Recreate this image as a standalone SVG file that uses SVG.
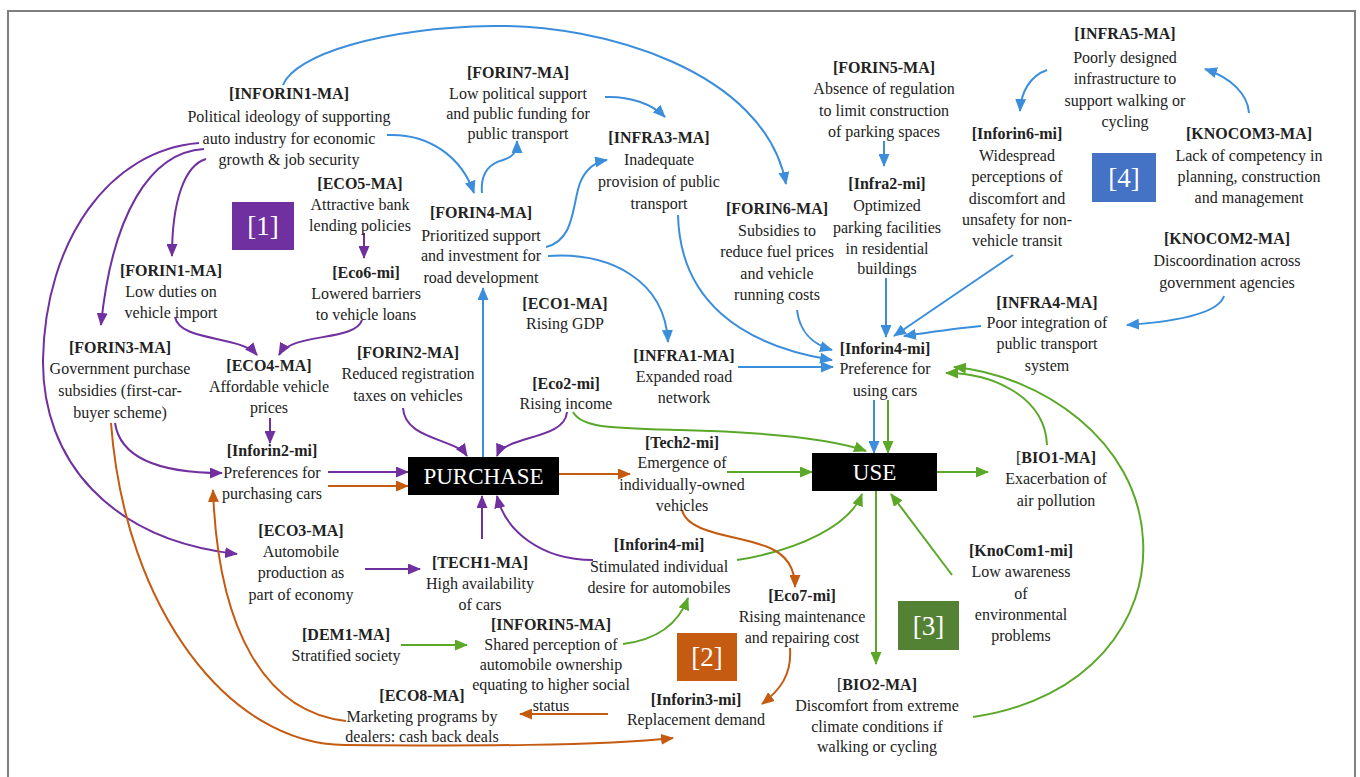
<svg xmlns="http://www.w3.org/2000/svg" width="1360" height="777" viewBox="0 0 1360 777">
<style>
.t{font-size:16px;fill:#222;text-anchor:middle}
.h{font-weight:bold}
.c{fill:none;stroke-width:2}
.b{stroke:#3B8EDB}.g{stroke:#5BA829}.p{stroke:#7030A0}.o{stroke:#C55A11}
.bx{font-size:27px;fill:#fff;text-anchor:middle}
.big{font-size:23px;fill:#fff;text-anchor:middle}
</style>
<defs>
<marker id="ab" markerUnits="userSpaceOnUse" markerWidth="13" markerHeight="11" viewBox="0 0 13 11" refX="12" refY="5.5" orient="auto"><path d="M0,0 L13,5.5 L0,11 z" fill="#3B8EDB"/></marker>
<marker id="ag" markerUnits="userSpaceOnUse" markerWidth="13" markerHeight="11" viewBox="0 0 13 11" refX="12" refY="5.5" orient="auto"><path d="M0,0 L13,5.5 L0,11 z" fill="#5BA829"/></marker>
<marker id="ap" markerUnits="userSpaceOnUse" markerWidth="13" markerHeight="11" viewBox="0 0 13 11" refX="12" refY="5.5" orient="auto"><path d="M0,0 L13,5.5 L0,11 z" fill="#7030A0"/></marker>
<marker id="ao" markerUnits="userSpaceOnUse" markerWidth="13" markerHeight="11" viewBox="0 0 13 11" refX="12" refY="5.5" orient="auto"><path d="M0,0 L13,5.5 L0,11 z" fill="#C55A11"/></marker>
</defs>
<rect x="0" y="0" width="1360" height="777" fill="#fff"/>
<rect x="8" y="11" width="1347" height="790" fill="none" stroke="#7f7f7f" stroke-width="2"/>

<g id="connectors">
<g class="c b" marker-end="url(#ab)">
<path d="M283,85 C295,55 380,28 493,26 C600,24 765,70 786,184"/>
<path d="M387,135 C430,133 462,158 474,193"/>
<path d="M482,193 C480,170 492,163 503,160 C513,157 517,152 517,141"/>
<path d="M605,97 C630,96 652,104 665,117"/>
<path d="M546,247 C575,240 572,205 580,183 C586,168 595,162 607,160"/>
<path d="M548,256 C610,252 665,280 668,342"/>
<path d="M483,457 L483,288"/>
<path d="M678,215 C680,300 740,345 832,360"/>
<path d="M797,310 C800,335 815,345 832,350"/>
<path d="M738,367 L833,367"/>
<path d="M884,141 L884,166"/>
<path d="M886,278 L886,337"/>
<path d="M1013,255 L894,336"/>
<path d="M981,326 C950,329 925,333 904,336"/>
<path d="M1224,296 C1218,315 1170,322 1127,325"/>
<path d="M1047,70 C1030,76 1021,92 1020,111"/>
<path d="M1249,113 C1248,95 1232,78 1205,69"/>
<path d="M874,400 L874,453"/>
</g>
<g class="c g" marker-end="url(#ag)">
<path d="M888,400 L888,453"/>
<path d="M573,412 C582,428 610,428 680,430 C760,432 830,438 866,451"/>
<path d="M727,472 L812,472"/>
<path d="M937,472 L988,472"/>
<path d="M1047,445 C1045,395 990,373 946,373"/>
<path d="M973,717 C1090,700 1148,620 1143,540 C1138,440 1040,375 954,367"/>
<path d="M876,491 L876,664"/>
<path d="M952,575 L891,494"/>
<path d="M737,560 C800,550 850,525 862,494"/>
<path d="M401,645 L467,645"/>
<path d="M623,644 C655,640 678,625 688,598"/>
</g>
<g class="c p" marker-end="url(#ap)">
<path d="M199,143 C110,150 45,240 43,360 C42,460 110,540 237,554"/>
<path d="M204,149 C150,152 112,215 101,325"/>
<path d="M206,159 C185,165 172,200 172,256"/>
<path d="M364,233 L364,258"/>
<path d="M175,317 C180,342 240,335 257,355"/>
<path d="M362,320 C355,342 292,332 279,355"/>
<path d="M270,418 L270,443"/>
<path d="M115,423 C122,470 190,473 222,473"/>
<path d="M328,472 L408,472"/>
<path d="M403,408 C405,440 455,438 467,456"/>
<path d="M567,412 C565,440 505,435 497,456"/>
<path d="M482,539 L482,496"/>
<path d="M593,560 C540,560 505,530 497,496"/>
<path d="M365,569 L420,569"/>
</g>
<g class="c o" marker-end="url(#ao)">
<path d="M328,486 L408,486"/>
<path d="M559,474 L630,474"/>
<path d="M682,510 C688,535 740,535 770,548 C788,556 795,570 795,587"/>
<path d="M790,648 C792,675 780,690 762,704"/>
<path d="M608,714 L520,714"/>
<path d="M346,721 C265,712 218,630 213,490"/>
<path d="M111,423 C125,610 230,745 345,745 C470,746 600,746 673,738"/>
</g>
</g>

<g font-family="Liberation Serif, DejaVu Serif, serif">
<g id="purchase"><rect x="408" y="457" width="151" height="38" fill="#000"/><text class="big" x="483.5" y="484">PURCHASE</text></g>
<g id="use"><rect x="812" y="453" width="125" height="38" fill="#000"/><text class="big" x="874.5" y="480">USE</text></g>

<g id="box1"><rect x="232" y="202" width="62" height="48" fill="#7030A0"/><text class="bx" x="263" y="235">[1]</text></g>
<g id="box2"><rect x="677" y="633" width="60" height="48" fill="#C55A11"/><text class="bx" x="707" y="666">[2]</text></g>
<g id="box3"><rect x="898" y="601" width="61" height="49" fill="#548235"/><text class="bx" x="928.5" y="634.5">[3]</text></g>
<g id="box4"><rect x="1092" y="153" width="64" height="49" fill="#4472C4"/><text class="bx" x="1124" y="186.5">[4]</text></g>

<g id="INFORIN1-MA"><text class="t"><tspan class="h" x="289" y="98.5">[INFORIN1-MA]</tspan><tspan x="289" y="121.5">Political ideology of supporting</tspan><tspan x="289" y="143.5">auto industry for economic</tspan><tspan x="289" y="164.5">growth &amp; job security</tspan></text></g>
<g id="FORIN7-MA"><text class="t"><tspan class="h" x="518" y="77.5">[FORIN7-MA]</tspan><tspan x="518" y="98.5">Low political support</tspan><tspan x="518" y="118.5">and public funding for</tspan><tspan x="518" y="138.5">public transport</tspan></text></g>
<g id="INFRA3-MA"><text class="t"><tspan class="h" x="659" y="142.5">[INFRA3-MA]</tspan><tspan x="659" y="164.5">Inadequate</tspan><tspan x="659" y="186.5">provision of public</tspan><tspan x="659" y="208.5">transport</tspan></text></g>
<g id="FORIN5-MA"><text class="t"><tspan class="h" x="884" y="72.5">[FORIN5-MA]</tspan><tspan x="884" y="93.5">Absence of regulation</tspan><tspan x="884" y="115.5">to limit construction</tspan><tspan x="884" y="136.5">of parking spaces</tspan></text></g>
<g id="Infra2-mi"><text class="t"><tspan class="h" x="887" y="188.5">[Infra2-mi]</tspan><tspan x="887" y="210.5">Optimized</tspan><tspan x="887" y="232.5">parking facilities</tspan><tspan x="887" y="253.5">in residential</tspan><tspan x="887" y="273.5">buildings</tspan></text></g>
<g id="FORIN6-MA"><text class="t"><tspan class="h" x="777" y="213.5">[FORIN6-MA]</tspan><tspan x="777" y="235.5">Subsidies to</tspan><tspan x="777" y="256.5">reduce fuel prices</tspan><tspan x="777" y="278.5">and vehicle</tspan><tspan x="777" y="299.5">running costs</tspan></text></g>
<g id="INFRA5-MA"><text class="t"><tspan class="h" x="1125" y="38.5">[INFRA5-MA]</tspan><tspan x="1125" y="62.5">Poorly designed</tspan><tspan x="1125" y="83.5">infrastructure to</tspan><tspan x="1125" y="105.5">support walking or</tspan><tspan x="1125" y="126.5">cycling</tspan></text></g>
<g id="Inforin6-mi"><text class="t"><tspan class="h" x="1017" y="138.5">[Inforin6-mi]</tspan><tspan x="1017" y="160.5">Widespread</tspan><tspan x="1017" y="182">perceptions of</tspan><tspan x="1017" y="203.5">discomfort and</tspan><tspan x="1017" y="225">unsafety for non-</tspan><tspan x="1017" y="246">vehicle transit</tspan></text></g>
<g id="KNOCOM3-MA"><text class="t"><tspan class="h" x="1249" y="138.5">[KNOCOM3-MA]</tspan><tspan x="1249" y="160.5">Lack of competency in</tspan><tspan x="1249" y="182">planning, construction</tspan><tspan x="1249" y="203">and management</tspan></text></g>
<g id="KNOCOM2-MA"><text class="t"><tspan class="h" x="1227" y="243.5">[KNOCOM2-MA]</tspan><tspan x="1227" y="265.5">Discoordination across</tspan><tspan x="1227" y="287.5">government agencies</tspan></text></g>
<g id="INFRA4-MA"><text class="t"><tspan class="h" x="1047" y="307.5">[INFRA4-MA]</tspan><tspan x="1047" y="327.5">Poor integration of</tspan><tspan x="1047" y="348.5">public transport</tspan><tspan x="1047" y="370.5">system</tspan></text></g>
<g id="ECO5-MA"><text class="t"><tspan class="h" x="360" y="188.5">[ECO5-MA]</tspan><tspan x="360" y="209.5">Attractive bank</tspan><tspan x="360" y="230.5">lending policies</tspan></text></g>
<g id="FORIN4-MA"><text class="t"><tspan class="h" x="481" y="217.5">[FORIN4-MA]</tspan><tspan x="481" y="240.5">Prioritized support</tspan><tspan x="481" y="261">and investment for</tspan><tspan x="481" y="283">road development</tspan></text></g>
<g id="FORIN1-MA"><text class="t"><tspan class="h" x="171" y="275.5">[FORIN1-MA]</tspan><tspan x="171" y="296.5">Low duties on</tspan><tspan x="171" y="318">vehicle import</tspan></text></g>
<g id="Eco6-mi"><text class="t"><tspan class="h" x="366" y="277.5">[Eco6-mi]</tspan><tspan x="366" y="298.5">Lowered barriers</tspan><tspan x="366" y="319.5">to vehicle loans</tspan></text></g>
<g id="ECO1-MA"><text class="t"><tspan class="h" x="565" y="308.5">[ECO1-MA]</tspan><tspan x="565" y="329">Rising GDP</tspan></text></g>
<g id="FORIN3-MA"><text class="t"><tspan class="h" x="120" y="352.5">[FORIN3-MA]</tspan><tspan x="120" y="374">Government purchase</tspan><tspan x="120" y="396">subsidies (first-car-</tspan><tspan x="120" y="417.5">buyer scheme)</tspan></text></g>
<g id="ECO4-MA"><text class="t"><tspan class="h" x="269" y="370.5">[ECO4-MA]</tspan><tspan x="269" y="391.5">Affordable vehicle</tspan><tspan x="269" y="412.5">prices</tspan></text></g>
<g id="FORIN2-MA"><text class="t"><tspan class="h" x="408" y="357.5">[FORIN2-MA]</tspan><tspan x="408" y="378.5">Reduced registration</tspan><tspan x="408" y="400.5">taxes on vehicles</tspan></text></g>
<g id="INFRA1-MA"><text class="t"><tspan class="h" x="684" y="360.5">[INFRA1-MA]</tspan><tspan x="684" y="381.5">Expanded road</tspan><tspan x="684" y="402.5">network</tspan></text></g>
<g id="Eco2-mi"><text class="t"><tspan class="h" x="566" y="388.5">[Eco2-mi]</tspan><tspan x="566" y="409">Rising income</tspan></text></g>
<g id="Inforin4-mi-use"><text class="t"><tspan class="h" x="885" y="353.5">[Inforin4-mi]</tspan><tspan x="885" y="374">Preference for</tspan><tspan x="885" y="395.5">using cars</tspan></text></g>
<g id="Inforin2-mi"><text class="t"><tspan class="h" x="272" y="455.5">[Inforin2-mi]</tspan><tspan x="272" y="477.5">Preferences for</tspan><tspan x="272" y="498.5">purchasing cars</tspan></text></g>
<g id="Tech2-mi"><text class="t"><tspan class="h" x="682" y="447.5">[Tech2-mi]</tspan><tspan x="682" y="467.5">Emergence of</tspan><tspan x="682" y="489.5">individually-owned</tspan><tspan x="682" y="510.5">vehicles</tspan></text></g>
<g id="BIO1-MA"><text class="t"><tspan x="1056" y="462.5">[<tspan class="h">BIO1-MA]</tspan></tspan><tspan x="1056" y="483.5">Exacerbation of</tspan><tspan x="1056" y="505.5">air pollution</tspan></text></g>
<g id="ECO3-MA"><text class="t"><tspan class="h" x="301" y="535.5">[ECO3-MA]</tspan><tspan x="301" y="556.5">Automobile</tspan><tspan x="301" y="577.5">production as</tspan><tspan x="301" y="599.5">part of economy</tspan></text></g>
<g id="TECH1-MA"><text class="t"><tspan class="h" x="480" y="567.5">[TECH1-MA]</tspan><tspan x="480" y="588.5">High availability</tspan><tspan x="480" y="609.5">of cars</tspan></text></g>
<g id="Inforin4-mi-purchase"><text class="t"><tspan class="h" x="659" y="549.5">[Inforin4-mi]</tspan><tspan x="659" y="571.5">Stimulated individual</tspan><tspan x="659" y="592.5">desire for automobiles</tspan></text></g>
<g id="Eco7-mi"><text class="t"><tspan class="h" x="802" y="600.5">[Eco7-mi]</tspan><tspan x="802" y="621.5">Rising maintenance</tspan><tspan x="802" y="642.5">and repairing cost</tspan></text></g>
<g id="Inforin3-mi"><text class="t"><tspan class="h" x="696" y="704.5">[Inforin3-mi]</tspan><tspan x="696" y="724.5">Replacement demand</tspan></text></g>
<g id="KnoCom1-mi"><text class="t"><tspan class="h" x="1021" y="555.5">[KnoCom1-mi]</tspan><tspan x="1021" y="576.5">Low awareness</tspan><tspan x="1021" y="598.5">of</tspan><tspan x="1021" y="619.5">environmental</tspan><tspan x="1021" y="640.5">problems</tspan></text></g>
<g id="BIO2-MA"><text class="t"><tspan x="877" y="689.5">[<tspan class="h">BIO2-MA]</tspan></tspan><tspan x="877" y="710.5">Discomfort from extreme</tspan><tspan x="877" y="731.5">climate conditions if</tspan><tspan x="877" y="751.5">walking or cycling</tspan></text></g>
<g id="DEM1-MA"><text class="t"><tspan class="h" x="346" y="639.5">[DEM1-MA]</tspan><tspan x="346" y="660.5">Stratified society</tspan></text></g>
<g id="INFORIN5-MA"><text class="t"><tspan class="h" x="551" y="629.5">[INFORIN5-MA]</tspan><tspan x="551" y="650">Shared perception of</tspan><tspan x="551" y="670">automobile ownership</tspan><tspan x="551" y="690">equating to higher social</tspan><tspan x="551" y="710.5">status</tspan></text></g>
<g id="ECO8-MA"><text class="t"><tspan class="h" x="422" y="700.5">[ECO8-MA]</tspan><tspan x="422" y="721.5">Marketing programs by</tspan><tspan x="422" y="741.5">dealers: cash back deals</tspan></text></g>
</g>
</svg>
